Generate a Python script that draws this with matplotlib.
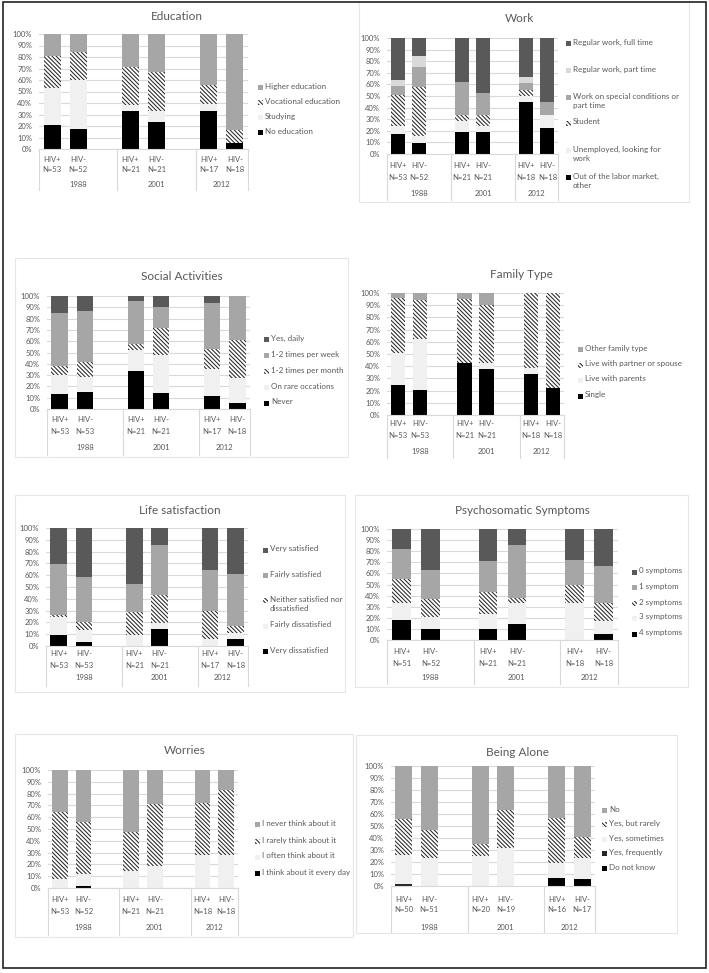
import matplotlib
matplotlib.use("Agg")
import matplotlib.pyplot as plt
from matplotlib.patches import Rectangle

# --- Data (percent of each group, stacked bottom -> top) ---
groups = ["HIV+", "HIV-", "HIV+", "HIV-", "HIV+", "HIV-"]
years = ["1988", "2001", "2012"]

edu_n = ["N=53", "N=52", "N=21", "N=21", "N=17", "N=18"]
edu_names = ["No education", "Studying", "Vocational education", "Higher education"]
edu_none = [20.8, 17.3, 33.3, 23.8, 33.3, 5.6]
edu_study = [32.1, 42.3, 4.8, 9.5, 5.6, 0]
edu_voc = [28.3, 25.0, 33.3, 33.3, 16.7, 11.1]
edu_high = [18.9, 15.4, 28.6, 33.3, 44.4, 83.3]

work_n = ["N=53", "N=52", "N=21", "N=21", "N=18", "N=18"]
work_names = ["Out of the labor market,\nother", "Unemployed, looking for\nwork", "Student",
              "Work on special conditions or\npart time", "Regular work, part time",
              "Regular work, full time"]
work_out = [17.0, 9.6, 19.0, 19.0, 44.4, 22.2]
work_unemp = [7.5, 5.8, 9.5, 4.8, 5.6, 11.1]
work_student = [26.4, 42.3, 4.8, 9.5, 5.6, 0]
work_special = [7.5, 17.3, 28.6, 19.0, 5.6, 11.1]
work_part = [5.7, 9.6, 0, 0, 5.6, 0]
work_full = [35.8, 15.4, 38.1, 47.6, 33.3, 55.6]

soc_n = ["N=53", "N=53", "N=21", "N=21", "N=17", "N=18"]
soc_names = ["Never", "On rare occations", "1-2 times per month", "1-2 times per week", "Yes, daily"]
soc_never = [13.2, 15.1, 33.3, 14.3, 11.8, 5.6]
soc_rare = [17.0, 13.2, 19.0, 33.3, 23.5, 22.2]
soc_month = [7.5, 13.2, 4.8, 23.8, 17.6, 33.3]
soc_week = [47.2, 45.3, 38.1, 19.0, 41.2, 38.9]
soc_daily = [15.1, 13.2, 4.8, 9.5, 5.9, 0]

fam_n = ["N=53", "N=53", "N=21", "N=21", "N=18", "N=18"]
fam_names = ["Single", "Live with parents", "Live with partner or spouse", "Other family type"]
fam_single = [24.5, 20.8, 42.9, 38.1, 33.3, 22.2]
fam_parents = [26.4, 41.5, 0, 4.8, 5.6, 0]
fam_partner = [45.3, 32.1, 52.4, 47.6, 61.1, 77.8]
fam_other = [3.8, 5.7, 4.8, 9.5, 0, 0]

life_n = ["N=53", "N=53", "N=21", "N=21", "N=17", "N=18"]
life_names = ["Very dissatisfied", "Fairly dissatisfied", "Neither satisfied nor\ndissatisfied",
              "Fairly satisfied", "Very satisfied"]
life_vd = [9.4, 3.8, 0, 14.3, 0, 5.6]
life_fd = [15.1, 9.4, 9.5, 4.8, 5.9, 5.6]
life_neither = [1.9, 7.5, 19.0, 23.8, 23.5, 5.6]
life_fs = [43.4, 37.7, 23.8, 42.9, 35.3, 44.4]
life_vs = [30.2, 41.5, 47.6, 14.3, 35.3, 38.9]

psy_n = ["N=51", "N=52", "N=21", "N=21", "N=18", "N=18"]
psy_names = ["4 symptoms", "3 symptoms", "2 symptoms", "1 symptom", "0 symptoms"]
psy_4 = [17.6, 9.6, 9.5, 14.3, 0, 5.6]
psy_3 = [15.7, 11.5, 14.3, 19.0, 33.3, 11.1]
psy_2 = [21.6, 15.4, 19.0, 4.8, 16.7, 16.7]
psy_1 = [27.5, 26.9, 28.6, 47.6, 22.2, 33.3]
psy_0 = [17.6, 36.5, 28.6, 14.3, 27.8, 33.3]

wor_n = ["N=53", "N=52", "N=21", "N=21", "N=18", "N=18"]
wor_names = ["I think about it every day", "I often think about it", "I rarely think about it",
             "I never think about it"]
wor_daily = [0, 1.9, 0, 0, 0, 0]
wor_often = [7.5, 9.6, 14.3, 19.0, 27.8, 27.8]
wor_rarely = [56.6, 44.2, 33.3, 52.4, 44.4, 55.6]
wor_never = [35.8, 44.2, 52.4, 28.6, 27.8, 16.7]

alo_n = ["N=50", "N=51", "N=20", "N=19", "N=16", "N=17"]
alo_names = ["Do not know", "Yes, frequently", "Yes, sometimes", "Yes, but rarely", "No"]
alo_dnk = [0, 0, 0, 0, 6.3, 5.9]
alo_freq = [2.0, 0, 0, 0, 0, 0]
alo_some = [24.0, 23.5, 25.0, 31.6, 12.5, 17.6]
alo_rare = [30.0, 23.5, 10.0, 31.6, 37.5, 17.6]
alo_no = [44.0, 52.9, 65.0, 36.8, 43.8, 58.8]

# --- Styles ---
W, H = 709, 973
TEXT = "#595959"
GRID = "#d9d9d9"
HATCH_EC = "#262626"
BLACK = ("#000000", None)
NEAR = ("#262626", None)
DARK = ("#595959", None)
MID = ("#a6a6a6", None)
PALE = ("#d9d9d9", None)
LIGHT = ("#f0f0f0", None)
HATCH = ("white", "\\" * 8)

plt.rcParams["font.family"] = ["Lato", "DejaVu Sans"]
plt.rcParams["hatch.linewidth"] = 0.75

fig = plt.figure(figsize=(W / 100, H / 100), dpi=100)
pos = [0, 1, 3, 4, 6, 7]


def fx(x):
    return x / W


def fy(y):
    return 1 - y / H


def draw_panel(box, title, title_xy, names, values, n_labels, styles,
               leg_x, leg_y, offs, border=None):
    x0, y0, x1, y1 = box
    hpx = y1 - y0
    ax = fig.add_axes([fx(x0), fy(y1), (x1 - x0) / W, hpx / H])
    bottom = [0] * 6
    for vals, (fc, hatch) in zip(values, styles):
        ax.bar(pos, vals, 0.65, bottom=bottom, color=fc, hatch=hatch,
               edgecolor=HATCH_EC if hatch else fc, linewidth=0, zorder=2)
        bottom = [b + v for b, v in zip(bottom, vals)]
    ax.set_xlim(-0.5, 7.5)
    ax.set_ylim(0, 100)
    ax.set_yticks(range(0, 101, 10))
    ax.set_yticklabels([f"{t}%" for t in range(0, 101, 10)])
    ax.tick_params(axis="y", length=0, pad=5, labelsize=5.5, labelcolor=TEXT)
    ax.set_xticks([])
    ax.yaxis.grid(True, color=GRID, lw=0.8)
    ax.set_axisbelow(True)
    for s in ["top", "right", "left"]:
        ax.spines[s].set_visible(False)
    ax.spines["bottom"].set_color(GRID)
    ax.spines["bottom"].set_linewidth(0.8)

    # two-level category axis
    tr = ax.get_xaxis_transform()
    o_hiv, o_n, o_year, o_sep = [o / hpx for o in offs]
    for p, g, n in zip(pos, groups, n_labels):
        ax.text(p, -o_hiv, g, transform=tr, ha="center", va="center", fontsize=5.5, color=TEXT)
        ax.text(p, -o_n, n, transform=tr, ha="center", va="center", fontsize=5.5, color=TEXT)
    for xs in [-0.5, 2.5, 5.5, 7.5]:
        ax.plot([xs, xs], [0, -o_sep], transform=tr, color=GRID, lw=0.8, clip_on=False)
    for xc, yr in zip([1.0, 4.0, 6.5], years):
        ax.text(xc, -o_year, yr, transform=tr, ha="center", va="center", fontsize=5.5, color=TEXT)

    fig.text(fx(title_xy[0]), fy(title_xy[1]), title, ha="center", va="center",
             fontsize=8.5, color=TEXT)

    # legend, drawn top-down in reverse stacking order
    for name, (fc, hatch), ly in zip(names[::-1], styles[::-1], leg_y):
        fig.add_artist(Rectangle((fx(leg_x), fy(ly + 2.5)), 5 / W, 5 / H, transform=fig.transFigure,
                                 facecolor=fc, hatch=hatch,
                                 edgecolor=HATCH_EC if hatch else fc, linewidth=0))
        fig.text(fx(leg_x + 7), fy(ly - 4.5), name, ha="left", va="top", fontsize=5.8,
                 color=TEXT, linespacing=1.45)

    if border:
        bx0, by0, bx1, by1 = border
        fig.add_artist(Rectangle((fx(bx0), fy(by1)), (bx1 - bx0) / W, (by1 - by0) / H,
                                 transform=fig.transFigure, fill=False, ec="#e6e6e6", lw=0.8))
    return ax


draw_panel((39, 34, 248, 149), "Education", (177, 17), edu_names,
           [edu_none, edu_study, edu_voc, edu_high], edu_n,
           [BLACK, LIGHT, HATCH, MID], 258, [87, 102, 117, 132], (10, 20, 35, 41))

draw_panel((387, 38, 558, 154), "Work", (519, 18), work_names,
           [work_out, work_unemp, work_student, work_special, work_part, work_full], work_n,
           [BLACK, LIGHT, HATCH, MID, PALE, DARK], 566, [43, 70, 97, 123, 150, 177],
           (12, 23, 39, 46), border=(359, 2, 689, 202))

draw_panel((47, 296, 250, 409), "Social Activities", (182, 276), soc_names,
           [soc_never, soc_rare, soc_month, soc_week, soc_daily], soc_n,
           [BLACK, LIGHT, HATCH, MID, DARK], 264, [339, 355, 371, 387, 403],
           (10, 22, 38, 46), border=(15, 258, 348, 457))

draw_panel((387, 293, 564, 415), "Family Type", (521, 275), fam_names,
           [fam_single, fam_parents, fam_partner, fam_other], fam_n,
           [BLACK, LIGHT, HATCH, MID], 578, [349, 365, 380, 396], (9, 21, 37, 43))

draw_panel((46, 528, 248, 646), "Life satisfaction", (180, 510), life_names,
           [life_vd, life_fd, life_neither, life_fs, life_vs], life_n,
           [BLACK, LIGHT, HATCH, MID, DARK], 263, [550, 575, 600, 626, 651],
           (8, 20, 32, 40), border=(15, 495, 345, 692))

draw_panel((387, 529, 618, 640), "Psychosomatic Symptoms", (522, 511), psy_names,
           [psy_4, psy_3, psy_2, psy_1, psy_0], psy_n,
           [BLACK, LIGHT, HATCH, MID, DARK], 632, [572, 587, 603, 618, 634],
           (12, 23, 38, 44), border=(355, 495, 688, 687))

draw_panel((48, 770, 238, 888), "Worries", (185, 751), wor_names,
           [wor_daily, wor_often, wor_rarely, wor_never], wor_n,
           [BLACK, LIGHT, HATCH, MID], 255, [824, 841, 857, 873],
           (12, 23, 40, 47), border=(15, 734, 353, 937))

draw_panel((391, 766, 595, 886), "Being Alone", (518, 752), alo_names,
           [alo_dnk, alo_freq, alo_some, alo_rare, alo_no], alo_n,
           [BLACK, NEAR, LIGHT, HATCH, MID], 602, [810, 824, 839, 853, 868],
           (13, 24, 41, 47), border=(356, 735, 677, 933))

# outer frame
fig.add_artist(Rectangle((fx(3), fy(968)), 703 / W, 966 / H, transform=fig.transFigure,
                         fill=False, ec="#222222", lw=1.2))

fig.savefig("out.png", dpi=100)
